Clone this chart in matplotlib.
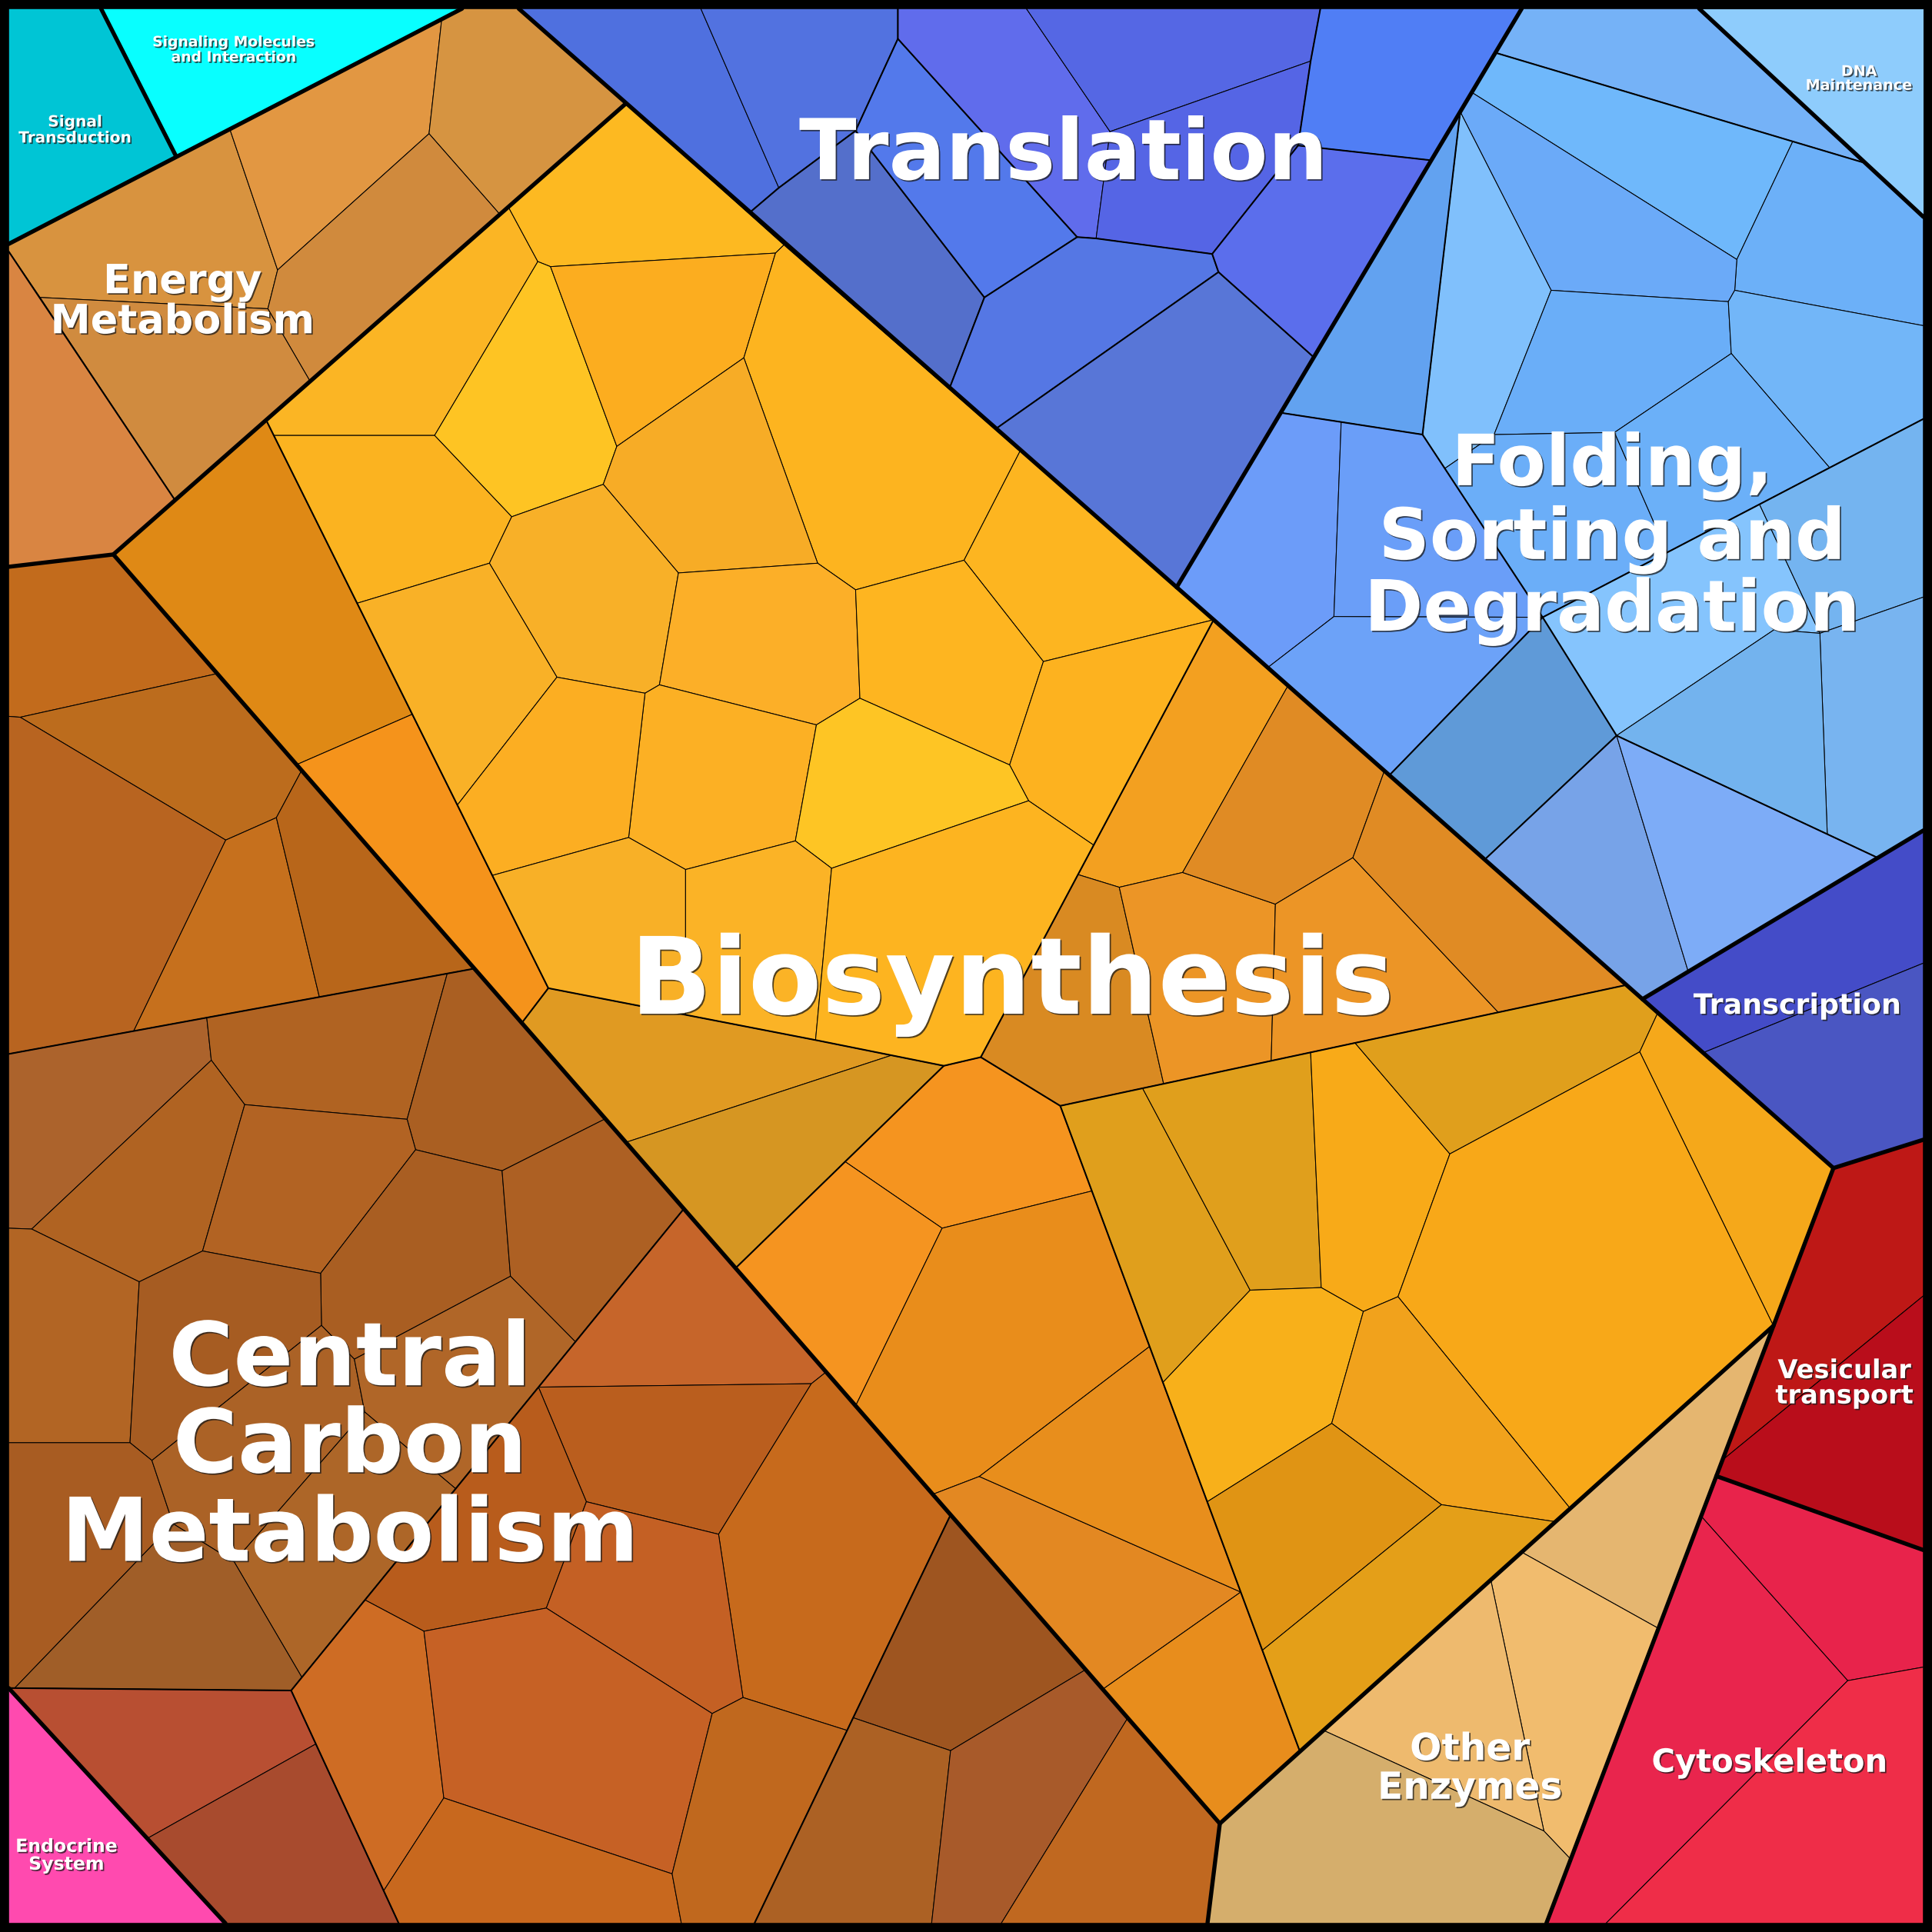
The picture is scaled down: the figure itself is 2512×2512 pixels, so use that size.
import matplotlib
matplotlib.use("Agg")
import matplotlib.pyplot as plt
from matplotlib.patches import Polygon
import matplotlib.patheffects as pe

# ---------------- data: Voronoi treemap cells (pixel space of a 1568 canvas) ----------------
signal_cells = [
    ("#00C5D5", [(7, 7), (82, 7), (143, 127), (7, 198)]),
]
signaling_cells = [
    ("#08FFFF", [(82, 7), (375, 7), (143, 127)]),
]
energy_cells = [
    ("#D8933F", [(7, 198), (186.6, 105), (225.3, 219.1), (217.4, 250.6), (32.5, 241.4), (7, 204)]),
    ("#E29742", [(186.6, 105), (358.5, 15.6), (348.2, 108.5), (225.3, 219.1)]),
    ("#D69441", [(358.5, 15.6), (375, 7), (421, 7), (508, 84), (405.7, 174), (348.2, 108.5)]),
    ("#D08A3D", [(348.2, 108.5), (405.7, 174), (251.7, 309.5), (217.4, 250.6), (225.3, 219.1)]),
    ("#D08B3F", [(32.5, 241.4), (217.4, 250.6), (251.7, 309.5), (142.1, 406)]),
    ("#D98542", [(7, 204), (142.1, 406), (92, 450), (7, 460)]),
]
translation_cells = [
    ("#4F70DF", [(421, 7), (568.8, 7), (632.1, 152.4), (608.8, 172.2)]),
    ("#5272E0", [(568.8, 7), (728.7, 7), (728.7, 31.5), (694.4, 106.1), (632.1, 152.4)]),
    ("#546FCB", [(608.8, 172.2), (632.1, 152.4), (694.4, 106.1), (798.9, 241.4), (770.8, 314.6)]),
    ("#5379EB", [(694.4, 106.1), (728.7, 31.5), (874.2, 192.4), (798.9, 241.4)]),
    ("#606CEC", [(728.7, 7), (833, 7), (900.9, 106.8), (889.6, 193.5), (874.2, 192.4), (728.7, 31.5)]),
    ("#5567E4", [(833, 7), (1071.6, 7), (1063.7, 49.6), (900.9, 106.8)]),
    ("#5565E5", [(900.9, 106.8), (1063.7, 49.6), (1053.5, 118.1), (983.8, 206.1), (889.6, 193.5)]),
    ("#5577E4", [(798.9, 241.4), (874.2, 192.4), (889.6, 193.5), (983.8, 206.1), (988.9, 220.8), (808.5, 347.8), (770.8, 314.6)]),
    ("#507EF5", [(1071.6, 7), (1235, 7), (1161.6, 130.1), (1053.5, 118.1), (1063.7, 49.6)]),
    ("#5B6EEC", [(1053.5, 118.1), (1161.6, 130.1), (1066.3, 290), (988.9, 220.8), (983.8, 206.1)]),
    ("#5876D7", [(808.5, 347.8), (988.9, 220.8), (1066.3, 290), (955, 476.6)]),
]
folding_cells = [
    ("#75B2F7", [(1235, 7), (1379, 7), (1514, 132.4), (1455, 114.8), (1213.7, 42.8)]),
    ("#6FB8FB", [(1213.7, 42.8), (1455, 114.8), (1409.6, 210.6), (1194.5, 75)]),
    ("#6CB0F8", [(1455, 114.8), (1514, 132.4), (1561, 176), (1561, 264.3), (1407.9, 235.6), (1409.6, 210.6)]),
    ("#6BAAF8", [(1194.5, 75), (1409.6, 210.6), (1407.9, 235.6), (1402.7, 244.8), (1258.9, 235.6), (1185.1, 90.7)]),
    ("#80C0FC", [(1185.1, 90.7), (1258.9, 235.6), (1212.6, 352.7), (1172.6, 380.2), (1154.5, 352.7)]),
    ("#62A2F0", [(1185.1, 90.7), (1154.5, 352.7), (1088.5, 342.5), (1039.5, 335)]),
    ("#6AAEF8", [(1258.9, 235.6), (1402.7, 244.8), (1405.1, 286.9), (1310.3, 351), (1212.6, 352.7)]),
    ("#72B6F8", [(1407.9, 235.6), (1561, 264.3), (1561, 340), (1484.9, 379.6), (1405.1, 286.9), (1402.7, 244.8)]),
    ("#6BAEF8", [(1212.6, 352.7), (1310.3, 351), (1353, 448.4), (1252, 501), (1172.6, 380.2)]),
    ("#6BB0F8", [(1405.1, 286.9), (1484.9, 379.6), (1428, 409.3), (1353, 448.4), (1310.3, 351)]),
    ("#85C4FD", [(1252, 501), (1353, 448.4), (1428, 409.3), (1477, 514), (1440, 511), (1312, 597)]),
    ("#74B4F0", [(1428, 409.3), (1484.9, 379.6), (1561, 340), (1561, 484.6), (1477, 514)]),
    ("#78B4F0", [(1477, 514), (1561, 484.6), (1561, 674), (1524, 696.2), (1483, 677)]),
    ("#73B3EE", [(1440, 511), (1477, 514), (1483, 677), (1312, 597)]),
    ("#6C9CF9", [(1039.5, 335), (1088.5, 342.5), (1082.6, 500.4), (1028.9, 541.8), (955, 476.6)]),
    ("#6A9EF8", [(1088.5, 342.5), (1154.5, 352.7), (1172.6, 380.2), (1252, 501), (1082.6, 500.4)]),
    ("#6CA2F8", [(1028.9, 541.8), (1082.6, 500.4), (1252, 501), (1127.6, 629.2)]),
    ("#5F9AD8", [(1252, 501), (1312, 597), (1205, 697.6), (1127.6, 629.2)]),
    ("#77A3E8", [(1312, 597), (1370.2, 788.6), (1333, 810.9), (1205, 697.6)]),
    ("#7DACF7", [(1312, 597), (1524, 696.2), (1370.2, 788.6)]),
]
dna_cells = [
    ("#8ECCFC", [(1379, 7), (1561, 7), (1561, 176)]),
]
transcription_cells = [
    ("#444CC8", [(1333, 810.9), (1561, 674), (1561, 781.7), (1382.2, 854.4)]),
    ("#4A56C2", [(1382.2, 854.4), (1561, 781.7), (1561, 925), (1488, 948)]),
]
vesicular_cells = [
    ("#BE1816", [(1488, 948), (1561, 925), (1561, 1051.7), (1397.9, 1185)]),
    ("#B90D1B", [(1397.9, 1185), (1561, 1051.7), (1561, 1258), (1393, 1198)]),
]
cytoskeleton_cells = [
    ("#E8234B", [(1393, 1198), (1561, 1258), (1561, 1353), (1499.6, 1364), (1380.6, 1230.5)]),
    ("#E9254D", [(1380.6, 1230.5), (1499.6, 1364), (1303.4, 1561), (1255, 1561)]),
    ("#EF2D48", [(1499.6, 1364), (1561, 1353), (1561, 1561), (1303.4, 1561)]),
]
other_enzyme_cells = [
    ("#E5B670", [(1439.3, 1076), (1346, 1321.6), (1234.9, 1259.7)]),
    ("#F1BC6E", [(1234.9, 1259.7), (1346, 1321.6), (1274.8, 1509), (1253, 1486), (1209.9, 1282.1)]),
    ("#EEBA6E", [(1209.9, 1282.1), (1253, 1486), (1074, 1404.3)]),
    ("#D5AE6C", [(1074, 1404.3), (1253, 1486), (1274.8, 1509), (1255, 1561), (980, 1561), (990, 1480)]),
]
endocrine_cells = [
    ("#FF4AAF", [(7, 1370), (183, 1561), (7, 1561)]),
]
central_carbon_cells = [
    ("#C26B1C", [(7, 460), (92, 450), (176.3, 546.7), (16.4, 582.1), (7, 581.4)]),
    ("#BC6C1D", [(16.4, 582.1), (176.3, 546.7), (244.8, 625.3), (224.3, 663.6), (183.2, 681.8)]),
    ("#B86420", [(7, 581.4), (16.4, 582.1), (183.2, 681.8), (108.5, 836.8), (7, 855.4)]),
    ("#C6701D", [(183.2, 681.8), (224.3, 663.6), (259.2, 809.2), (108.5, 836.8)]),
    ("#B8661A", [(224.3, 663.6), (244.8, 625.3), (385, 786.1), (259.2, 809.2)]),
    ("#AC632C", [(7, 855.4), (167.8, 825.9), (171.5, 860.5), (25.7, 997.5), (7, 996.8)]),
    ("#B06322", [(167.8, 825.9), (363, 790.1), (330.4, 908.4), (198.6, 896.5), (171.5, 860.5)]),
    ("#AA5F22", [(363, 790.1), (385, 786.1), (491.3, 908), (407.5, 950.2), (337.3, 933.1), (330.4, 908.4)]),
    ("#B06322", [(25.7, 997.5), (171.5, 860.5), (198.6, 896.5), (164.4, 1015.3), (113, 1040.3)]),
    ("#B26323", [(198.6, 896.5), (330.4, 908.4), (337.3, 933.1), (260.2, 1033.4), (164.4, 1015.3)]),
    ("#A95E22", [(337.3, 933.1), (407.5, 950.2), (414.3, 1035.8), (287.6, 1103.1), (260.9, 1075.7), (260.2, 1033.4)]),
    ("#AD6023", [(407.5, 950.2), (491.3, 908), (555, 981.1), (467, 1089), (414.3, 1035.8)]),
    ("#B26524", [(7, 996.8), (25.7, 997.5), (113, 1040.3), (105.5, 1170.9), (7, 1170.9)]),
    ("#A65C22", [(113, 1040.3), (164.4, 1015.3), (260.2, 1033.4), (260.9, 1075.7), (123.3, 1185.3), (105.5, 1170.9)]),
    ("#A85C22", [(7, 1170.9), (105.5, 1170.9), (123.3, 1185.3), (140.4, 1236.6), (12, 1370), (7, 1370)]),
    ("#AB6226", [(123.3, 1185.3), (260.9, 1075.7), (287.6, 1103.1), (296, 1146), (190, 1267.5), (140.4, 1236.6)]),
    ("#B06628", [(287.6, 1103.1), (414.3, 1035.8), (467, 1089), (369.8, 1208.2), (296, 1146)]),
    ("#AD6628", [(296, 1146), (369.8, 1208.2), (245, 1361.3), (190, 1267.5)]),
    ("#A05E28", [(12, 1370), (140.4, 1236.6), (190, 1267.5), (245, 1361.3), (236.3, 1372)]),
    ("#C6652A", [(555, 981.1), (670.5, 1113.5), (658.5, 1123), (437, 1125.8)]),
    ("#BA5E1E", [(437, 1125.8), (658.5, 1123), (583.2, 1245.2), (475.9, 1218.8)]),
    ("#C76A1C", [(658.5, 1123), (670.5, 1113.5), (771.5, 1229.4), (687.5, 1404.4), (603, 1377.7), (583.2, 1245.2)]),
    ("#B85C1C", [(437, 1125.8), (475.9, 1218.8), (443.4, 1305.1), (344.1, 1323.9), (296.2, 1298.5)]),
    ("#C46024", [(475.9, 1218.8), (583.2, 1245.2), (603, 1377.7), (578, 1390.7), (443.4, 1305.1)]),
    ("#CE6C24", [(236.3, 1372), (296.2, 1298.5), (344.1, 1323.9), (360.2, 1459.2), (311.4, 1534.5)]),
    ("#C66125", [(344.1, 1323.9), (443.4, 1305.1), (578, 1390.7), (545.5, 1520.8), (360.2, 1459.2)]),
    ("#C8681E", [(311.4, 1534.5), (360.2, 1459.2), (545.5, 1520.8), (553, 1561), (323.6, 1561)]),
    ("#C0681E", [(578, 1390.7), (603, 1377.7), (687.5, 1404.4), (612.3, 1561), (553, 1561), (545.5, 1520.8)]),
    ("#9E5520", [(771.5, 1229.4), (881.1, 1355.1), (771.5, 1420.8), (692.4, 1394.1)]),
    ("#AC6124", [(692.4, 1394.1), (771.5, 1420.8), (756.1, 1561), (612.3, 1561)]),
    ("#A85A2A", [(771.5, 1420.8), (881.1, 1355.1), (915.3, 1394.3), (812.6, 1561), (756.1, 1561)]),
    ("#C06820", [(915.3, 1394.3), (990, 1480), (980, 1561), (812.6, 1561)]),
    ("#B84F32", [(7, 1370), (236.3, 1372), (256.3, 1415.4), (119.5, 1492.1)]),
    ("#A84B2E", [(119.5, 1492.1), (256.3, 1415.4), (323.6, 1561), (183, 1561)]),
]
biosynthesis_cells = [
    # left strip
    ("#DF8915", [(92, 450), (216, 340.9), (334.6, 579.7), (240.7, 620.6)]),
    ("#F5931B", [(240.7, 620.6), (334.6, 579.7), (445, 802), (423.5, 830.2)]),
    # middle olive
    ("#E09A22", [(423.5, 830.2), (445, 802), (661.9, 844.1), (723.5, 856.5), (508, 927.1)]),
    ("#D69622", [(508, 927.1), (723.5, 856.5), (766, 865), (597, 1029.2)]),
    # lower orange
    ("#F5941F", [(685.9, 942.8), (766, 865), (796, 858), (860.5, 897.5), (886.2, 966.6), (764.6, 996.8)]),
    ("#F59420", [(597, 1029.2), (685.9, 942.8), (764.6, 996.8), (694.4, 1141)]),
    ("#E98D1B", [(764.6, 996.8), (886.2, 966.6), (933, 1092.8), (794.8, 1198.3), (757, 1212.8), (694.4, 1141)]),
    ("#E38822", [(757, 1212.8), (794.8, 1198.3), (1007, 1292.1), (895, 1371)]),
    ("#E88E1C", [(794.8, 1198.3), (933, 1092.8), (1007, 1292.1)]),
    ("#E88D1C", [(895, 1371), (1007, 1292.1), (1055, 1421.5), (990, 1480)]),
    # right upper orange
    ("#F3A020", [(985, 503), (1045.4, 556.4), (959.8, 708.1), (908.4, 720.1), (874.9, 709.8)]),
    ("#D98A22", [(874.9, 709.8), (908.4, 720.1), (944.4, 879.6), (860.5, 897.5), (796, 858)]),
    ("#EC9526", [(908.4, 720.1), (959.8, 708.1), (1035.1, 733.8), (1031.7, 861), (944.4, 879.6)]),
    ("#E08B24", [(959.8, 708.1), (1045.4, 556.4), (1123.6, 625.6), (1098, 696.1), (1035.1, 733.8)]),
    ("#EC9526", [(1035.1, 733.8), (1098, 696.1), (1216, 821.6), (1031.7, 861)]),
    ("#E08B24", [(1123.6, 625.6), (1320, 799.4), (1216, 821.6), (1098, 696.1)]),
    # right lower yellow-orange
    ("#E09F1C", [(860.5, 897.5), (927.3, 883.2), (1014.6, 1047.1), (943.8, 1122)]),
    ("#E09F1C", [(927.3, 883.2), (1063.7, 854.1), (1072.3, 1045), (1014.6, 1047.1)]),
    ("#F8AA18", [(1063.7, 854.1), (1099.7, 846.4), (1176.7, 936.5), (1134.6, 1052.4), (1106.5, 1064.4), (1072.3, 1045)]),
    ("#E09F1C", [(1099.7, 846.4), (1320, 799.4), (1345.5, 821.9), (1330.8, 853.7), (1176.7, 936.5)]),
    ("#F5A81A", [(1345.5, 821.9), (1488, 948), (1439.3, 1076), (1330.8, 853.7)]),
    ("#F8A818", [(1176.7, 936.5), (1330.8, 853.7), (1439.3, 1076), (1274.3, 1224.2), (1134.6, 1052.4)]),
    ("#F8B01A", [(943.8, 1122), (1014.6, 1047.1), (1072.3, 1045), (1106.5, 1064.4), (1080.8, 1155.2), (979.8, 1218.8)]),
    ("#F1A21C", [(1106.5, 1064.4), (1134.6, 1052.4), (1274.3, 1224.2), (1262.3, 1235), (1169.9, 1221.2), (1080.8, 1155.2)]),
    ("#E09414", [(979.8, 1218.8), (1080.8, 1155.2), (1169.9, 1221.2), (1024.5, 1339.4)]),
    ("#E49F18", [(1024.5, 1339.4), (1169.9, 1221.2), (1262.3, 1235), (1055, 1421.5)]),
    # upper yellow group
    ("#FBB524", [(216, 340.9), (412.6, 168), (436.5, 212.3), (352.7, 353.4), (222.2, 353.4)]),
    ("#FDB921", [(412.6, 168), (508, 84), (636.2, 198.8), (629.4, 205.4), (446.8, 216.4), (436.5, 212.3)]),
    ("#FEC423", [(436.5, 212.3), (446.8, 216.4), (500.6, 362.3), (489.6, 393.1), (415.3, 419.4), (352.7, 353.4)]),
    ("#FCAD1F", [(446.8, 216.4), (629.4, 205.4), (603.7, 290.4), (500.6, 362.3)]),
    ("#FBB320", [(222.2, 353.4), (352.7, 353.4), (415.3, 419.4), (397.2, 457.1), (289.8, 489.6)]),
    ("#FDB41F", [(629.4, 205.4), (636.2, 198.8), (827.9, 366.1), (782.4, 454.7), (694.4, 478.7), (663.6, 457.1), (603.7, 290.4)]),
    ("#F7AC26", [(500.6, 362.3), (603.7, 290.4), (663.6, 457.1), (550.6, 465), (489.6, 393.1)]),
    ("#F8B028", [(415.3, 419.4), (489.6, 393.1), (550.6, 465), (535.2, 555.8), (523.5, 562.6), (452, 549.6), (397.2, 457.1)]),
    ("#F9B127", [(289.8, 489.6), (397.2, 457.1), (452, 549.6), (371.2, 653.4)]),
    ("#FCAF28", [(550.6, 465), (663.6, 457.1), (694.4, 478.7), (697.9, 566.7), (662.6, 588.3), (535.2, 555.8)]),
    ("#FDB520", [(782.4, 454.7), (827.9, 366.1), (985, 503), (846.8, 536.9)]),
    ("#FEB520", [(694.4, 478.7), (782.4, 454.7), (846.8, 536.9), (819.4, 620.8), (697.9, 566.7)]),
    ("#FDB21F", [(846.8, 536.9), (985, 503), (887.6, 685.9), (834.8, 649.9), (819.4, 620.8)]),
    ("#FCB024", [(523.5, 562.6), (535.2, 555.8), (662.6, 588.3), (645.5, 682.5), (556.4, 705.7), (510.2, 679.7)]),
    ("#FEC524", [(662.6, 588.3), (697.9, 566.7), (819.4, 620.8), (834.8, 649.9), (674.9, 704.7), (645.5, 682.5)]),
    ("#FCAE22", [(452, 549.6), (523.5, 562.6), (510.2, 679.7), (399.5, 710.5), (371.2, 653.4)]),
    ("#F8B027", [(399.5, 710.5), (510.2, 679.7), (556.4, 705.7), (556.4, 823.6), (445, 802)]),
    ("#FBB326", [(556.4, 705.7), (645.5, 682.5), (674.9, 704.7), (661.9, 844.1), (556.4, 823.6)]),
    ("#FDB420", [(674.9, 704.7), (834.8, 649.9), (887.6, 685.9), (796, 858), (766, 865), (661.9, 844.1)]),
]

all_cells = (signal_cells + signaling_cells + energy_cells + translation_cells + folding_cells
             + dna_cells + transcription_cells + vesicular_cells + cytoskeleton_cells
             + other_enzyme_cells + endocrine_cells + central_carbon_cells + biosynthesis_cells)

# second-level (sub-category) boundaries
mid_lines = [
    [(7, 204), (142.1, 406)],
    [(608.8, 172.2), (632.1, 152.4), (694.4, 106.1), (728.7, 31.5), (728.7, 7)],
    [(694.4, 106.1), (798.9, 241.4), (770.8, 314.6)],
    [(728.7, 31.5), (874.2, 192.4), (798.9, 241.4)],
    [(874.2, 192.4), (889.6, 193.5), (983.8, 206.1), (988.9, 220.8), (808.5, 347.8)],
    [(988.9, 220.8), (1066.3, 290)],
    [(983.8, 206.1), (1053.5, 118.1), (1063.7, 49.6), (1071.6, 7)],
    [(1053.5, 118.1), (1161.6, 130.1)],
    [(1213.7, 42.8), (1455, 114.8), (1514, 132.4)],
    [(1185.1, 90.7), (1154.5, 352.7)],
    [(1039.5, 335), (1088.5, 342.5), (1154.5, 352.7), (1172.6, 380.2), (1252, 501), (1312, 597), (1205, 697.6)],
    [(1561, 340), (1484.9, 379.6), (1428, 409.3), (1353, 448.4), (1252, 501), (1127.6, 629.2)],
    [(1312, 597), (1483, 677), (1524, 696.2)],
    [(216, 340.9), (445, 802), (423.5, 830.2)],
    [(445, 802), (661.9, 844.1), (766, 865), (796, 858), (985, 503)],
    [(766, 865), (597, 1029.2)],
    [(796, 858), (860.5, 897.5), (1320, 799.4)],
    [(860.5, 897.5), (1055, 1421.5)],
    [(7, 855.4), (385, 786.1)],
    [(555, 981.1), (236.3, 1372), (7, 1370)],
    [(236.3, 1372), (323.6, 1561)],
    [(771.5, 1229.4), (612.3, 1561)],
]
# top-level category boundaries
top_lines = [
    [(7, 198), (375, 7)],
    [(82, 7), (143, 127)],
    [(421, 7), (985, 503), (1488, 948)],
    [(508, 84), (92, 450), (7, 460)],
    [(92, 450), (990, 1480), (980, 1561)],
    [(990, 1480), (1439.3, 1076)],
    [(1561, 925), (1488, 948), (1255, 1561)],
    [(1393, 1198), (1561, 1258)],
    [(1235, 7), (955, 476.6)],
    [(1379, 7), (1561, 176)],
    [(1333, 810.9), (1561, 674)],
    [(7, 1370), (183, 1561)],
]

# labels: lines, font size (pt), centre x, baselines
label_lines = [
    ["Translation"], ["Biosynthesis"], ["Central", "Carbon", "Metabolism"],
    ["Folding,", "Sorting and", "Degradation"], ["Energy", "Metabolism"], ["Transcription"],
    ["Vesicular", "transport"], ["Cytoskeleton"], ["Other", "Enzymes"], ["Endocrine", "System"],
    ["DNA", "Maintenance"], ["Signal", "Transduction"], ["Signaling Molecules", "and Interaction"],
]
label_sizes = [31.5, 40, 33, 26.5, 15.1, 10.5, 9.7, 12, 14, 6.8, 5.5, 5.8, 5.4]
label_x = [863, 821.5, 284, 1308.5, 148, 1459, 1497, 1436, 1193, 54, 1508.8, 61, 189.7]
label_baselines = [
    [145.5], [822.8], [1124.3, 1194.9, 1266.8], [393.8, 453.7, 511.9], [238, 270.5], [822.8],
    [1118.5, 1139], [1438], [1428.4, 1459.9], [1503, 1517.4], [61.6, 72.9], [102.7, 115.7], [37.7, 50],
]

# ---------------- drawing ----------------
W = 1568
fig = plt.figure(figsize=(2512 / 250, 2512 / 250), dpi=250, facecolor="black")
ax = fig.add_axes([0, 0, 1, 1])
ax.set_xlim(0, W)
ax.set_ylim(W, 0)
ax.set_facecolor("black")
ax.axis("off")

for color, pts in all_cells:
    ax.add_patch(Polygon(pts, closed=True, facecolor=color, edgecolor="black",
                         linewidth=0.3, joinstyle="round"))

for line in mid_lines:
    xs, ys = zip(*line)
    ax.plot(xs, ys, color="black", linewidth=0.6, solid_capstyle="round", solid_joinstyle="round")

for line in top_lines:
    xs, ys = zip(*line)
    ax.plot(xs, ys, color="black", linewidth=1.55, solid_capstyle="round", solid_joinstyle="round")

shadow = [pe.withSimplePatchShadow(offset=(0.5, -0.5), shadow_rgbFace="#1a1a1a", alpha=0.75)]
for lines, size, x, bases in zip(label_lines, label_sizes, label_x, label_baselines):
    for txt, y in zip(lines, bases):
        ax.text(x, y, txt, ha="center", va="baseline", color="white", fontsize=size,
                fontweight="bold", family="DejaVu Sans", path_effects=shadow)

fig.savefig("out.png", dpi=250, facecolor="black")
